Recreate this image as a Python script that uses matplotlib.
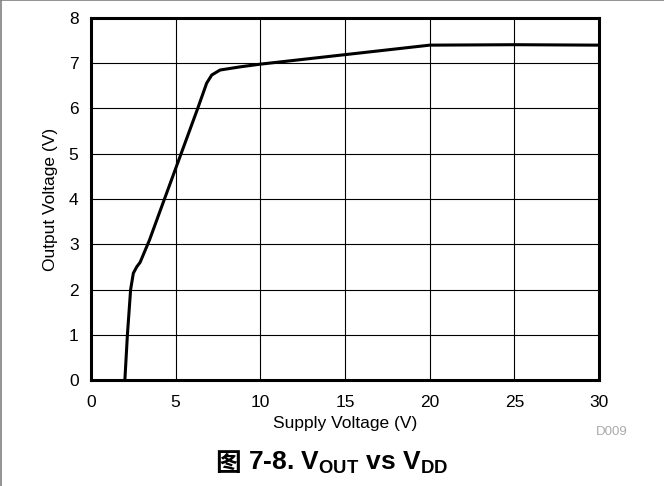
import matplotlib
matplotlib.use("Agg")
import matplotlib.pyplot as plt
from matplotlib.lines import Line2D

# curve
vdd = [2.0, 2.15, 2.34, 2.5, 2.7, 2.9, 3.45, 4.27, 5.3, 6.3, 6.83, 7.13, 7.62, 8.8, 10.0, 15.0, 20.0, 25.0, 30.0]
vout = [0.0, 1.0, 2.0, 2.36, 2.5, 2.6, 3.09, 3.93, 4.98, 6.0, 6.56, 6.74, 6.85, 6.92, 6.98, 7.19, 7.4, 7.41, 7.4]

x_ticks = [0, 5, 10, 15, 20, 25, 30]
y_ticks = [0, 1, 2, 3, 4, 5, 6, 7, 8]

plt.rcParams["font.family"] = ["Liberation Sans", "Noto Sans CJK SC"]
plt.rcParams["mathtext.fontset"] = "custom"
plt.rcParams["mathtext.rm"] = "Liberation Sans:bold"
plt.rcParams["mathtext.it"] = "Liberation Sans:bold"
plt.rcParams["mathtext.bf"] = "Liberation Sans:bold"

fig = plt.figure(figsize=(6.64, 4.86), dpi=100)
ax = fig.add_axes([91 / 664, 1 - 380 / 486, 508 / 664, 362 / 486])

ax.plot(vdd, vout, color="black", lw=2.2, solid_joinstyle="round", zorder=3)

ax.set_xlim(0, 30)
ax.set_ylim(0, 8)
ax.set_xticks(x_ticks)
ax.set_yticks(y_ticks)
ax.tick_params(length=0, labelsize=12.5, colors="black")
ax.tick_params(axis="x", pad=11)
ax.tick_params(axis="y", pad=9)
ax.grid(True, color="black", lw=0.8)
for sp in ax.spines.values():
    sp.set_linewidth(2.2)

ax.set_xlabel("Supply Voltage (V)", fontsize=12.5, labelpad=4)
ax.set_ylabel("Output Voltage (V)", fontsize=12.5, labelpad=8)

fig.text(612 / 664, 1 - 432 / 486, "D009", fontsize=9.5, color="#aaaaaa", ha="center", va="center")

# caption: CJK glyph separately, rest with bold mathtext subscripts
fig.text(215 / 664, 1 - 463 / 486, "图", fontsize=18.5, fontweight="bold",
         family="Noto Sans CJK SC", ha="left", va="center")
fig.text(248 / 664, 1 - 463 / 486, r"7-8. V$_{OUT}$ vs V$_{DD}$",
         fontsize=19, fontweight="bold", ha="left", va="center")

# outer frame: top and left edges only
fig.add_artist(Line2D([0, 1], [0.999, 0.999], transform=fig.transFigure, color="#808080", lw=1.2))
fig.add_artist(Line2D([0.001, 0.001], [0, 1], transform=fig.transFigure, color="#808080", lw=1.2))

fig.savefig("out.png", dpi=100)
